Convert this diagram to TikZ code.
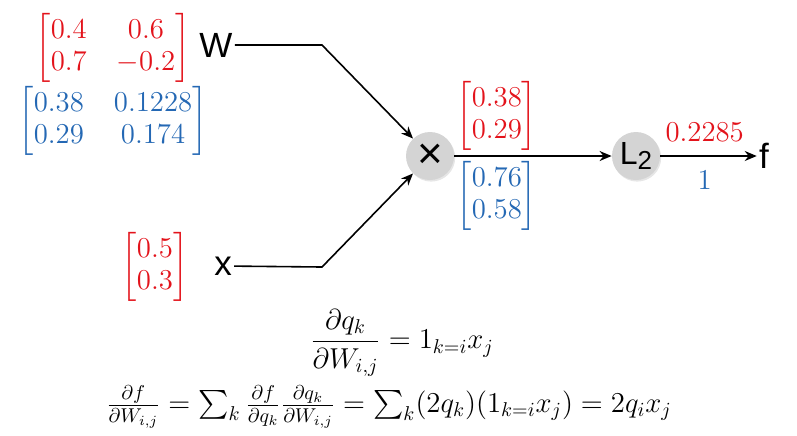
\documentclass[tikz,border=0pt]{standalone}
\usepackage{amsmath}
\usepackage{fontspec}
\setsansfont{Liberation Sans}
\usetikzlibrary{arrows.meta,positioning,shadows}
\definecolor{fwdRed}{HTML}{E3131B}
\definecolor{bwdBlue}{HTML}{2468B4}
\setlength{\arraycolsep}{7.5pt}

\begin{document}
\begin{tikzpicture}[
  x=0.5pt,y=-0.5pt,
  >={Stealth[length=6pt,width=5pt]},
  wire/.style={->,line width=0.8pt},
  gate/.style={circle,fill=black!17,minimum size=24pt,inner sep=0pt,
               drop shadow={opacity=0.2,shadow xshift=0.6pt,shadow yshift=-0.8pt}},
  var/.style={font=\sffamily\fontsize{17.5}{18}\selectfont,inner sep=1pt},
  fwd/.style={text=fwdRed,inner sep=1pt,font=\fontsize{14}{16}\selectfont},
  bwd/.style={text=bwdBlue,inner sep=1pt,font=\fontsize{14}{16}\selectfont},
  eqn/.style={inner sep=0pt,font=\fontsize{14}{17}\selectfont},
]
  \useasboundingbox (0,0) rectangle (797,435);

  % inputs
  \node[fwd] (wval)  at (113,48)  {$\begin{bmatrix}0.4&0.6\\0.7&-0.2\end{bmatrix}$};
  \node[bwd] (wgrad) at (113,121) {$\begin{bmatrix}0.38&0.1228\\0.29&0.174\end{bmatrix}$};
  \node[var] (wlab)  at (216,45)  {W};
  \node[fwd] (xval)  at (155,267) {$\begin{bmatrix}0.5\\0.3\end{bmatrix}$};
  \node[var] (xlab)  at (223,266) {x};

  % gates
  \node[gate,font=\sffamily\fontsize{22}{22}\selectfont] (mul) at (430,156) {×};
  \node[gate,font=\sffamily\fontsize{16}{16}\selectfont] (l2)  at (636,156)
       {L\raisebox{-0.35ex}{\fontsize{13}{13}\selectfont 2}};
  \node[var] (flab) at (764,156) {f};

  \coordinate (wbend) at (322,45);
  \coordinate (xbend) at (322,267);

  \draw[wire] (wlab) -- (wbend) -- (mul);
  \draw[wire] (xlab) -- (xbend) -- (mul);
  \path (mul) edge[wire] node[pos=0.27,above=1.5pt,fwd]{$\begin{bmatrix}0.38\\0.29\end{bmatrix}$}
                         node[pos=0.27,below=1.5pt,bwd]{$\begin{bmatrix}0.76\\0.58\end{bmatrix}$} (l2)
        (l2)  edge[wire] node[pos=0.46,above=6pt,fwd]{$0.2285$}
                         node[pos=0.46,below=6pt,bwd]{$1$} (flab);

  % gradient of W
  \node[eqn] (dq) at (402,343) {$\displaystyle\frac{\partial q_k}{\partial W_{i,j}} = 1_{k=i}x_j$};
  \node[eqn] (df) at (389,407) {$\frac{\partial f}{\partial W_{i,j}} = \sum_k \frac{\partial f}{\partial q_k}\frac{\partial q_k}{\partial W_{i,j}}
       = \sum_k (2q_k)(1_{k=i}x_j) = 2q_ix_j$};
\end{tikzpicture}
\end{document}
